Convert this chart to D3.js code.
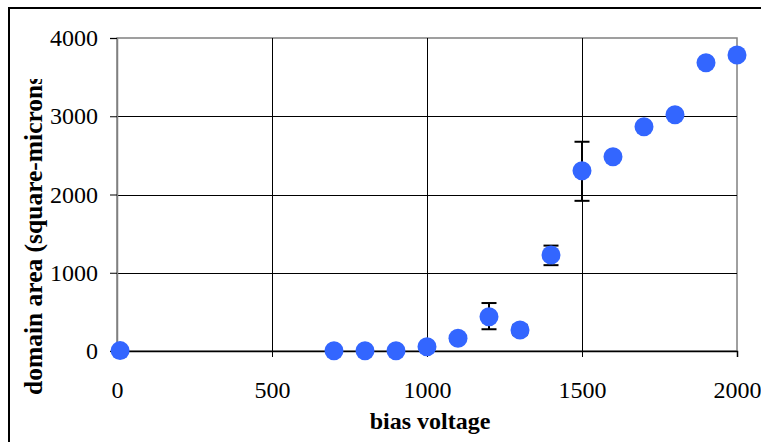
<!DOCTYPE html>
<html>
<head>
<meta charset="utf-8">
<script src="https://cdn.jsdelivr.net/npm/d3@7"></script>
<style>
  body { margin: 0; background: #fff; }
  svg { display: block; }
</style>
</head>
<body>
<script>
// bias voltage vs domain area
const voltage = [10, 700, 800, 900, 1000, 1100, 1200, 1300, 1400, 1500, 1600, 1700, 1800, 1900, 2000];
const area    = [5, 3, 3, 3, 55, 162, 438, 268, 1227, 2304, 2483, 2866, 3020, 3684, 3783];
const errLow  = [0, 0, 0, 0, 0, 0, 160, 65, 130, 385, 0, 0, 0, 0, 0];
const errHigh = [0, 0, 0, 0, 0, 0, 175, 65, 120, 370, 0, 0, 0, 0, 0];
const xTicks = [0, 500, 1000, 1500, 2000];
const yTicks = [0, 1000, 2000, 3000, 4000];

const width = 761, height = 442;
const plot = {left: 117, right: 737, top: 38, bottom: 351};
const points = voltage.map((v, i) => ({v: v, a: area[i], lo: errLow[i], hi: errHigh[i]}));

const x = d3.scaleLinear().domain([0, 2000]).range([plot.left, plot.right]);
const y = d3.scaleLinear().domain([0, 4000]).range([plot.bottom, plot.top]);

const svg = d3.select("body").append("svg")
    .attr("width", width)
    .attr("height", height)
    .style("font-family", "'Liberation Serif', 'Times New Roman', serif");

svg.append("rect")
    .attr("width", width).attr("height", height)
    .attr("fill", "#fff");

// chart frame, runs off the right and bottom edge
svg.append("rect")
    .attr("x", 9).attr("y", 8)
    .attr("width", 800).attr("height", 500)
    .attr("fill", "none")
    .attr("stroke", "#000")
    .attr("stroke-width", 2);

// plot area border (grey)
svg.append("rect")
    .attr("x", plot.left).attr("y", plot.top)
    .attr("width", plot.right - plot.left).attr("height", plot.bottom - plot.top)
    .attr("fill", "none")
    .attr("stroke", "#808080")
    .attr("stroke-width", 1.5);

// gridlines
svg.append("g")
    .attr("stroke", "#000")
    .attr("stroke-width", 1)
    .selectAll("line")
    .data(yTicks.filter(t => t > 0 && t < 4000))
    .join("line")
    .attr("x1", plot.left).attr("x2", plot.right)
    .attr("y1", d => Math.round(y(d)) + 0.5).attr("y2", d => Math.round(y(d)) + 0.5);

svg.append("g")
    .attr("stroke", "#000")
    .attr("stroke-width", 1)
    .selectAll("line")
    .data(xTicks.filter(t => t > 0 && t < 2000))
    .join("line")
    .attr("y1", plot.top).attr("y2", plot.bottom)
    .attr("x1", d => Math.round(x(d)) + 0.5).attr("x2", d => Math.round(x(d)) + 0.5);

// axes
const yAxis = d3.axisLeft(y).tickValues(yTicks).tickSize(7).tickPadding(12).tickFormat(d3.format("d"));
const xAxis = d3.axisBottom(x).tickValues(xTicks).tickSize(6).tickPadding(24).tickFormat(d3.format("d"));

const gy = svg.append("g")
    .attr("transform", `translate(${plot.left},0)`)
    .call(yAxis);
gy.select(".domain").attr("stroke", "#808080").attr("stroke-width", 1.5);

const gx = svg.append("g")
    .attr("transform", `translate(0,${plot.bottom})`)
    .call(xAxis);
gx.select(".domain").attr("stroke", "#000").attr("stroke-width", 1.5);

svg.selectAll(".tick line").attr("stroke", "#000");
svg.selectAll(".tick text")
    .attr("fill", "#000")
    .style("font-family", "'Liberation Serif', serif")
    .style("font-size", "24px");

// error bars, drawn under the markers
const bars = svg.append("g")
    .attr("stroke", "#000")
    .attr("stroke-width", 2)
    .selectAll("g")
    .data(points.filter(d => d.lo > 0 || d.hi > 0))
    .join("g");

bars.append("line")
    .attr("x1", d => x(d.v)).attr("x2", d => x(d.v))
    .attr("y1", d => y(d.a + d.hi)).attr("y2", d => y(d.a - d.lo));

bars.append("line")
    .attr("x1", d => x(d.v) - 7.5).attr("x2", d => x(d.v) + 7.5)
    .attr("y1", d => y(d.a + d.hi)).attr("y2", d => y(d.a + d.hi));

bars.append("line")
    .attr("x1", d => x(d.v) - 7.5).attr("x2", d => x(d.v) + 7.5)
    .attr("y1", d => y(d.a - d.lo)).attr("y2", d => y(d.a - d.lo));

// markers
svg.append("g")
    .selectAll("circle")
    .data(points)
    .join("circle")
    .attr("cx", d => x(d.v))
    .attr("cy", d => y(d.a))
    .attr("r", 9.5)
    .attr("fill", "#3366ff");

// axis titles
svg.append("text")
    .attr("x", 430).attr("y", 429)
    .attr("text-anchor", "middle")
    .style("font-size", "24px")
    .style("font-weight", "bold")
    .text("bias voltage");

// y title gets cut off at the top like in the original
svg.append("clipPath")
    .attr("id", "yclip")
    .append("rect")
    .attr("x", 0).attr("y", 79)
    .attr("width", 60).attr("height", 363);

svg.append("g")
    .attr("clip-path", "url(#yclip)")
    .append("text")
    .attr("transform", "translate(42,395) rotate(-90)")
    .style("font-size", "25.5px")
    .style("font-weight", "bold")
    .text("domain area (square-microns)");
</script>
</body>
</html>
